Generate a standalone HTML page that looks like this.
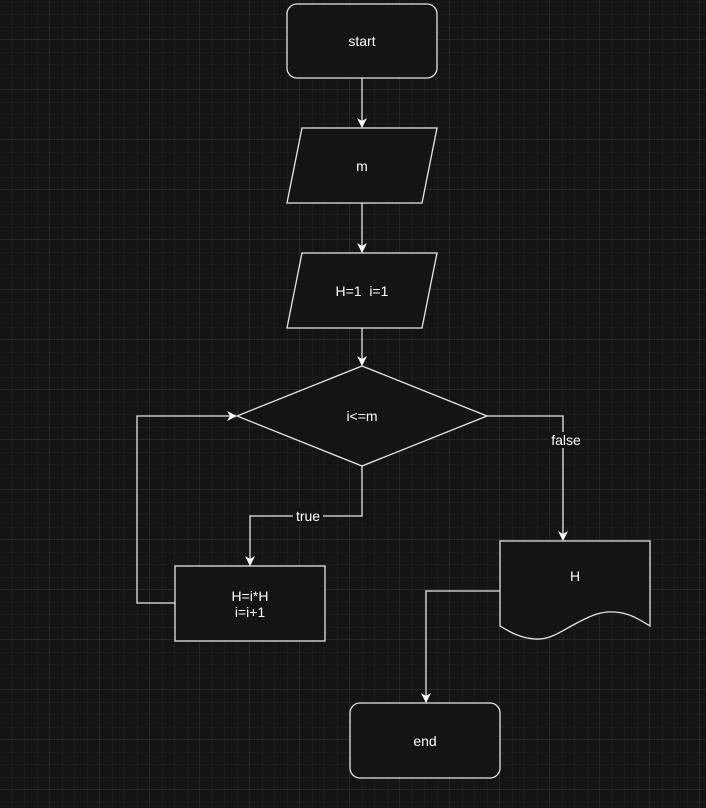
<!DOCTYPE html>
<html><head><style>
html,body{margin:0;padding:0;background:#141414;}
svg{display:block;}
text{font-family:"Liberation Sans",Arial,sans-serif;font-size:14px;fill:#fff;text-anchor:middle;dominant-baseline:central;}
</style></head><body>
<svg width="706" height="808" viewBox="0 0 706 808" xmlns="http://www.w3.org/2000/svg">
<defs>
<pattern id="minor" width="12.5" height="12.5" patternUnits="userSpaceOnUse" x="0" y="2.5">
<path d="M12.5 0V12.5M0 12.5H12.5" stroke="#222" stroke-width="1" fill="none"/>
</pattern>
<pattern id="major" width="50" height="50" patternUnits="userSpaceOnUse" x="0" y="-10">
<path d="M50 0V50M0 50H50" stroke="#3a3a3a" stroke-width="1" fill="none"/>
</pattern>
<marker id="ar" viewBox="0 0 10 10" refX="9" refY="5" markerWidth="10" markerHeight="10" orient="auto" markerUnits="userSpaceOnUse">
<path d="M0 0L10 5L0 10L3 5Z" fill="#fff"/>
</marker>
</defs>
<rect width="706" height="808" fill="#141414"/>
<rect width="706" height="808" fill="url(#minor)"/>
<rect width="706" height="808" fill="url(#major)"/>
<g stroke="#e6e6e6" stroke-width="1.3" fill="#141414">
<rect x="287" y="4" width="150" height="74" rx="10"/>
<polygon points="302,128 437,128 422,203 287,203"/>
<polygon points="302,253 437,253 422,328 287,328"/>
<polygon points="362,366 487,416 362,466 237,416"/>
<rect x="175" y="566" width="150" height="75"/>
<path d="M500 541H650V626C640 620 630 613 615 612C600 611 590 616 575 624C560 632 550 640 535 639C520 638 510 632 500 626Z"/>
<rect x="350" y="703" width="150" height="75" rx="10"/>
</g>
<g stroke="#e6e6e6" stroke-width="1.3" fill="none">
<path d="M362 78V127" marker-end="url(#ar)"/>
<path d="M362 203V252" marker-end="url(#ar)"/>
<path d="M362 328V365" marker-end="url(#ar)"/>
<path d="M362 466V516H250V565" marker-end="url(#ar)"/>
<path d="M175 603H137V416H236" marker-end="url(#ar)"/>
<path d="M487 416H563V540" marker-end="url(#ar)"/>
<path d="M500 591H426V702" marker-end="url(#ar)"/>
</g>
<text x="362" y="41">start</text>
<text x="362" y="166">m</text>
<text x="362" y="291">H=1&#160; i=1</text>
<text x="362" y="416">i&lt;=m</text>
<text x="250" y="596">H=i*H</text>
<text x="250" y="612">i=i+1</text>
<text x="575" y="576">H</text>
<text x="425" y="741">end</text>
<rect x="293" y="508" width="30" height="16" fill="#141414"/>
<text x="308" y="516">true</text>
<rect x="549" y="432" width="34" height="16" fill="#141414"/>
<text x="566" y="440">false</text>
</svg>
</body></html>
